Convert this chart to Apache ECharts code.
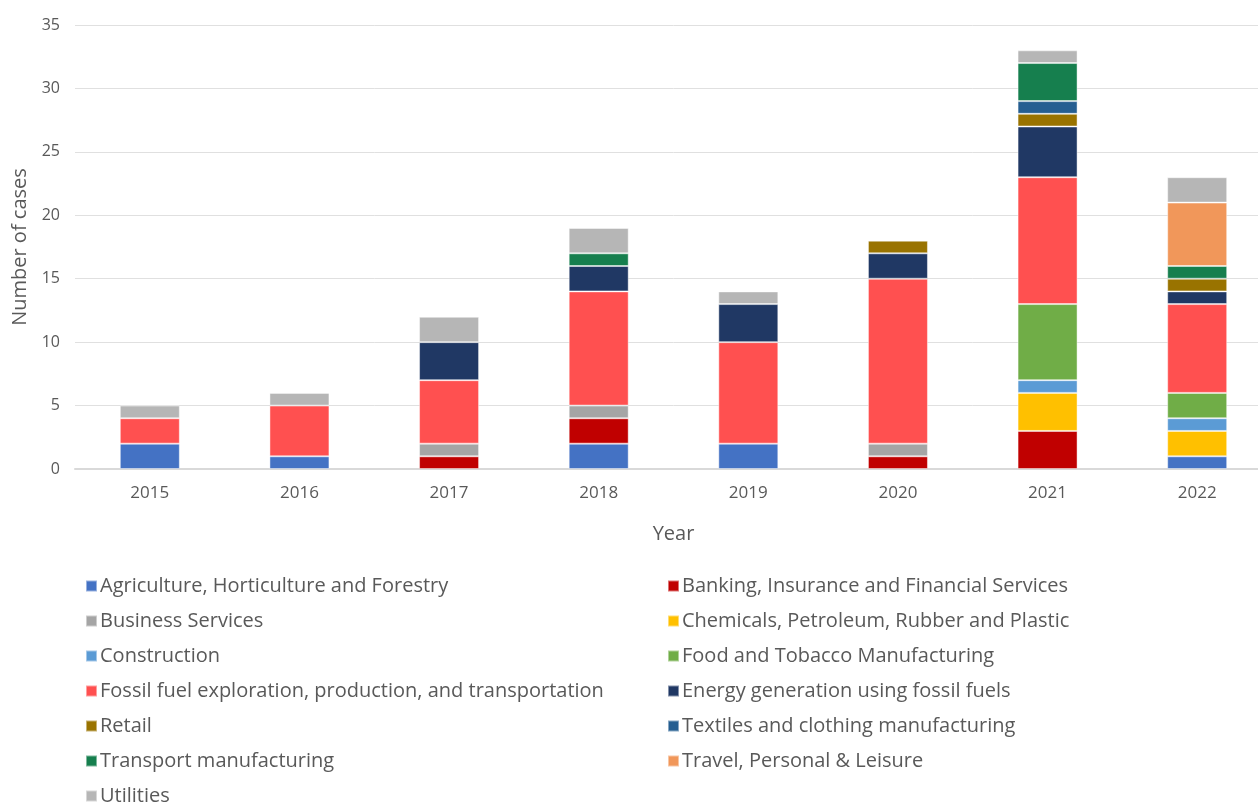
<!DOCTYPE html>
<html>
<head>
<meta charset="utf-8">
<script src="https://cdn.jsdelivr.net/npm/echarts@6/dist/echarts.min.js"></script>
<style>
  html, body { margin: 0; padding: 0; background: #fff; overflow: hidden; }
  #chart { width: 1272px; height: 805px; }
</style>
</head>
<body>
<div id="chart"></div>
<script>
// 年份
var years = ['2015', '2016', '2017', '2018', '2019', '2020', '2021', '2022'];

// 各行业案件数（由下往上堆叠）
var agriculture = [2, 1, 0, 2, 2, 0, 0, 1];
var banking     = [0, 0, 1, 2, 0, 1, 3, 0];
var business    = [0, 0, 1, 1, 0, 1, 0, 0];
var chemicals   = [0, 0, 0, 0, 0, 0, 3, 2];
var construction= [0, 0, 0, 0, 0, 0, 1, 1];
var food        = [0, 0, 0, 0, 0, 0, 6, 2];
var fossilFuel  = [2, 4, 5, 9, 8, 13, 10, 7];
var energy      = [0, 0, 3, 2, 3, 2, 4, 1];
var retail      = [0, 0, 0, 0, 0, 1, 1, 1];
var textiles    = [0, 0, 0, 0, 0, 0, 1, 0];
var transport   = [0, 0, 0, 1, 0, 0, 3, 1];
var travel      = [0, 0, 0, 0, 0, 0, 0, 5];
var utilities   = [1, 1, 2, 2, 1, 0, 1, 2];

var seriesNames = [
    'Agriculture, Horticulture and Forestry',
    'Banking, Insurance and Financial Services',
    'Business Services',
    'Chemicals, Petroleum, Rubber and Plastic',
    'Construction',
    'Food and Tobacco Manufacturing',
    'Fossil fuel exploration, production, and transportation',
    'Energy generation using fossil fuels',
    'Retail',
    'Textiles and clothing manufacturing',
    'Transport manufacturing',
    'Travel, Personal & Leisure',
    'Utilities'
];
var seriesData = [agriculture, banking, business, chemicals, construction, food,
    fossilFuel, energy, retail, textiles, transport, travel, utilities];
var seriesColors = ['#4472C4', '#C00000', '#A5A5A5', '#FFC000', '#5B9BD5', '#70AD47',
    '#FF5050', '#203864', '#997300', '#255E91', '#167F4E', '#F1975A', '#B6B6B6'];

var yTicks = { min: 0, max: 35, interval: 5 };

var chart = echarts.init(document.getElementById('chart'));

var series = seriesNames.map(function (name, i) {
    return {
        name: name,
        type: 'bar',
        stack: 'total',
        barWidth: 60,
        itemStyle: {
            color: seriesColors[i],
            borderColor: 'rgba(255,255,255,0.45)',
            borderWidth: 1
        },
        data: seriesData[i].map(function (v) { return v === 0 ? '-' : v; })
    };
});

// 图例分两列
var leftNames = seriesNames.filter(function (n, i) { return i % 2 === 0; });
var rightNames = seriesNames.filter(function (n, i) { return i % 2 === 1; });
var legendBase = {
    orient: 'vertical',
    top: 576,
    height: 260,
    icon: 'rect',
    itemWidth: 11,
    itemHeight: 11,
    itemGap: 15,
    padding: 0,
    textStyle: {
        fontFamily: 'Open Sans',
        fontSize: 20,
        lineHeight: 20,
        color: '#595959',
        padding: [0, 0, 0, -2]
    }
};

var option = {
    backgroundColor: '#fff',
    animation: false,
    textStyle: { fontFamily: 'Open Sans' },
    grid: {
        left: 75,
        right: 0,
        top: 25,
        bottom: 336
    },
    legend: [
        Object.assign({}, legendBase, { left: 85, data: leftNames }),
        Object.assign({}, legendBase, { left: 667, data: rightNames })
    ],
    xAxis: {
        type: 'category',
        data: years,
        name: 'Year',
        nameLocation: 'middle',
        nameGap: 55,
        nameTextStyle: { fontSize: 20, color: '#595959' },
        axisLine: { lineStyle: { color: '#d9d9d9', width: 2 } },
        axisTick: { show: false },
        axisLabel: { fontSize: 17, color: '#595959', margin: 16 }
    },
    yAxis: {
        type: 'value',
        min: yTicks.min,
        max: yTicks.max,
        interval: yTicks.interval,
        name: 'Number of cases',
        nameLocation: 'middle',
        nameGap: 45,
        nameTextStyle: { fontSize: 20, color: '#595959' },
        axisLine: { show: false },
        axisTick: { show: false },
        axisLabel: { fontSize: 16, color: '#595959', margin: 15 },
        splitLine: { lineStyle: { color: '#e0e0e0', width: 1 } }
    },
    series: series
};

chart.setOption(option);
</script>
</body>
</html>
